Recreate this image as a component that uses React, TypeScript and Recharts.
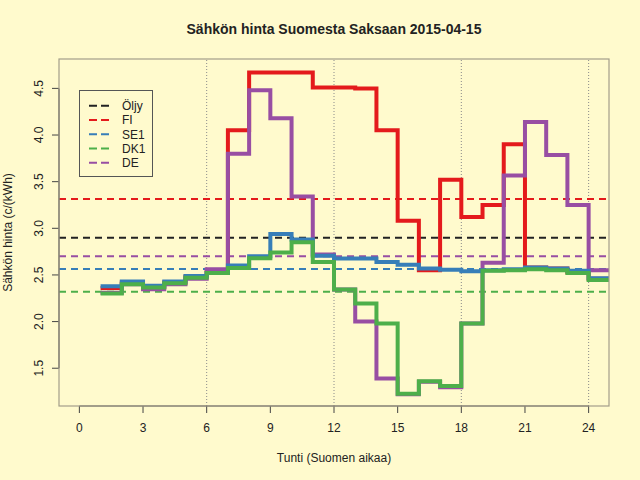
import { LineChart, Line, XAxis, YAxis, ReferenceLine, Legend } from "recharts";

// hourly prices, value at hour h holds until h+1 (last one repeated to close the step)
const hours = [1, 2, 3, 4, 5, 6, 7, 8, 9, 10, 11, 12, 13, 14, 15, 16, 17, 18, 19, 20, 21, 22, 23, 24, 25];
const fi = [2.36, 2.42, 2.37, 2.42, 2.48, 2.53, 4.05, 4.67, 4.67, 4.67, 4.51, 4.51, 4.5, 4.05, 3.08, 2.55, 3.52, 3.12, 3.25, 3.9, 2.58, 2.57, 2.53, 2.46, 2.46];
const de = [2.31, 2.4, 2.346, 2.4, 2.46, 2.56, 3.8, 4.48, 4.18, 3.34, 2.72, 2.345, 2.0, 1.39, 1.22, 1.355, 1.296, 1.98, 2.63, 3.565, 4.14, 3.785, 3.25, 2.55, 2.55];
const se1 = [2.38, 2.43, 2.385, 2.43, 2.49, 2.52, 2.6, 2.7, 2.94, 2.88, 2.705, 2.675, 2.675, 2.64, 2.61, 2.57, 2.555, 2.54, 2.55, 2.56, 2.58, 2.57, 2.545, 2.465, 2.465];
const dk1 = [2.3, 2.4, 2.365, 2.41, 2.47, 2.52, 2.575, 2.68, 2.74, 2.85, 2.64, 2.345, 2.195, 1.98, 1.225, 1.36, 1.31, 1.98, 2.545, 2.55, 2.56, 2.55, 2.52, 2.445, 2.445];

// averages shown as dashed lines
const seriesNames = ["Öljy", "FI", "SE1", "DK1", "DE"];
const seriesColors = ["#222222", "#E41A1C", "#377EB8", "#4DAF4A", "#984EA3"];
const meanValues = [2.9, 3.315, 2.565, 2.32, 2.7];

const xTicks = [0, 3, 6, 9, 12, 15, 18, 21, 24];
const yTicks = [1.5, 2.0, 2.5, 3.0, 3.5, 4.0, 4.5];
const gridHours = [6, 12, 18, 24];

const xDomain = [-0.96, 24.96];
const yDomain = [1.095, 4.815];

const data = hours.map((h, i) => ({ h, fi: fi[i], de: de[i], se1: se1[i], dk1: dk1[i] }));

const FONT = "'Liberation Sans', Arial, sans-serif";
const BG = "#FFFACD";

const XTick = (props: any) => {
  const { x, y, payload } = props;
  return (
    <text x={x} y={y} textAnchor="middle" fontSize={12} fontFamily={FONT} fill="#222">
      {payload.value}
    </text>
  );
};

const YTick = (props: any) => {
  const { x, y, payload } = props;
  return (
    <text
      x={x}
      y={y}
      transform={`rotate(-90 ${x} ${y})`}
      textAnchor="middle"
      fontSize={12}
      fontFamily={FONT}
      fill="#222"
    >
      {payload.value.toFixed(1)}
    </text>
  );
};

const LegendBox = () => (
  <svg width={74} height={88} style={{ display: "block" }}>
    <rect x={0.5} y={0.5} width={73} height={86} fill={BG} stroke="#555" strokeWidth={1} />
    {seriesNames.map((name, i) => {
      const cy = 15.7 + i * 14.25;
      return (
        <g key={name}>
          <line x1={10} x2={31} y1={cy} y2={cy} stroke={seriesColors[i]} strokeWidth={2} strokeDasharray="8 4" />
          <text x={43} y={cy + 4.3} fontSize={12} fontFamily={FONT} fill="#222">
            {name}
          </text>
        </g>
      );
    })}
  </svg>
);

export default function App() {
  return (
    <div style={{ position: "absolute", left: 0, top: 0, width: 640, height: 480, background: BG }}>
      <LineChart width={640} height={480} data={data} margin={{ top: 59, right: 31, bottom: 0, left: 19 }}>
        <XAxis
          type="number"
          dataKey="h"
          domain={xDomain}
          ticks={xTicks}
          allowDataOverflow
          axisLine={false}
          tickLine={{ stroke: "#444" }}
          tickSize={7}
          tickMargin={19}
          tick={<XTick />}
          height={74}
        />
        <YAxis
          type="number"
          domain={yDomain}
          ticks={yTicks}
          allowDataOverflow
          axisLine={false}
          tickLine={{ stroke: "#444" }}
          tickSize={7}
          tickMargin={9}
          tick={<YTick />}
          width={40}
        />
        {gridHours.map((h) => (
          <ReferenceLine key={h} x={h} stroke="#8a8a8a" strokeDasharray="1 2" strokeWidth={1} />
        ))}
        {meanValues.map((v, i) => (
          <ReferenceLine key={seriesNames[i]} y={v} stroke={seriesColors[i]} strokeDasharray="7 5" strokeWidth={2} />
        ))}
        <ReferenceLine
          segment={[{ x: 0, y: yDomain[0] }, { x: 24, y: yDomain[0] }]}
          stroke="#444"
          strokeWidth={1.2}
          ifOverflow="visible"
        />
        <ReferenceLine
          segment={[{ x: xDomain[0], y: 1.5 }, { x: xDomain[0], y: 4.5 }]}
          stroke="#444"
          strokeWidth={1.2}
          ifOverflow="visible"
        />
        <Line type="stepAfter" dataKey="fi" stroke={seriesColors[1]} strokeWidth={4} dot={false} isAnimationActive={false} />
        <Line type="stepAfter" dataKey="de" stroke={seriesColors[4]} strokeWidth={4} dot={false} isAnimationActive={false} />
        <Line type="stepAfter" dataKey="se1" stroke={seriesColors[2]} strokeWidth={4} dot={false} isAnimationActive={false} />
        <Line type="stepAfter" dataKey="dk1" stroke={seriesColors[3]} strokeWidth={4} dot={false} isAnimationActive={false} />
        <Legend
          layout="vertical"
          align="center"
          verticalAlign="middle"
          content={<LegendBox />}
          wrapperStyle={{ left: 79, top: 90, width: 74, height: 88 }}
        />
      </LineChart>
      <svg width={640} height={480} style={{ position: "absolute", left: 0, top: 0, pointerEvents: "none" }}>
        <rect x={59} y={59} width={550} height={347} fill="none" stroke="#a39d8a" strokeWidth={1.2} />
        <text x={334} y={33.5} textAnchor="middle" fontSize={14} fontWeight="bold" fontFamily={FONT} fill="#222">
          Sähkön hinta Suomesta Saksaan 2015-04-15
        </text>
        <text x={334} y={461.7} textAnchor="middle" fontSize={12} fontFamily={FONT} fill="#222">
          Tunti (Suomen aikaa)
        </text>
        <text
          x={11.5}
          y={232.5}
          transform="rotate(-90 11.5 232.5)"
          textAnchor="middle"
          fontSize={12}
          fontFamily={FONT}
          fill="#222"
        >
          Sähkön hinta (c/(kWh)
        </text>
      </svg>
    </div>
  );
}
